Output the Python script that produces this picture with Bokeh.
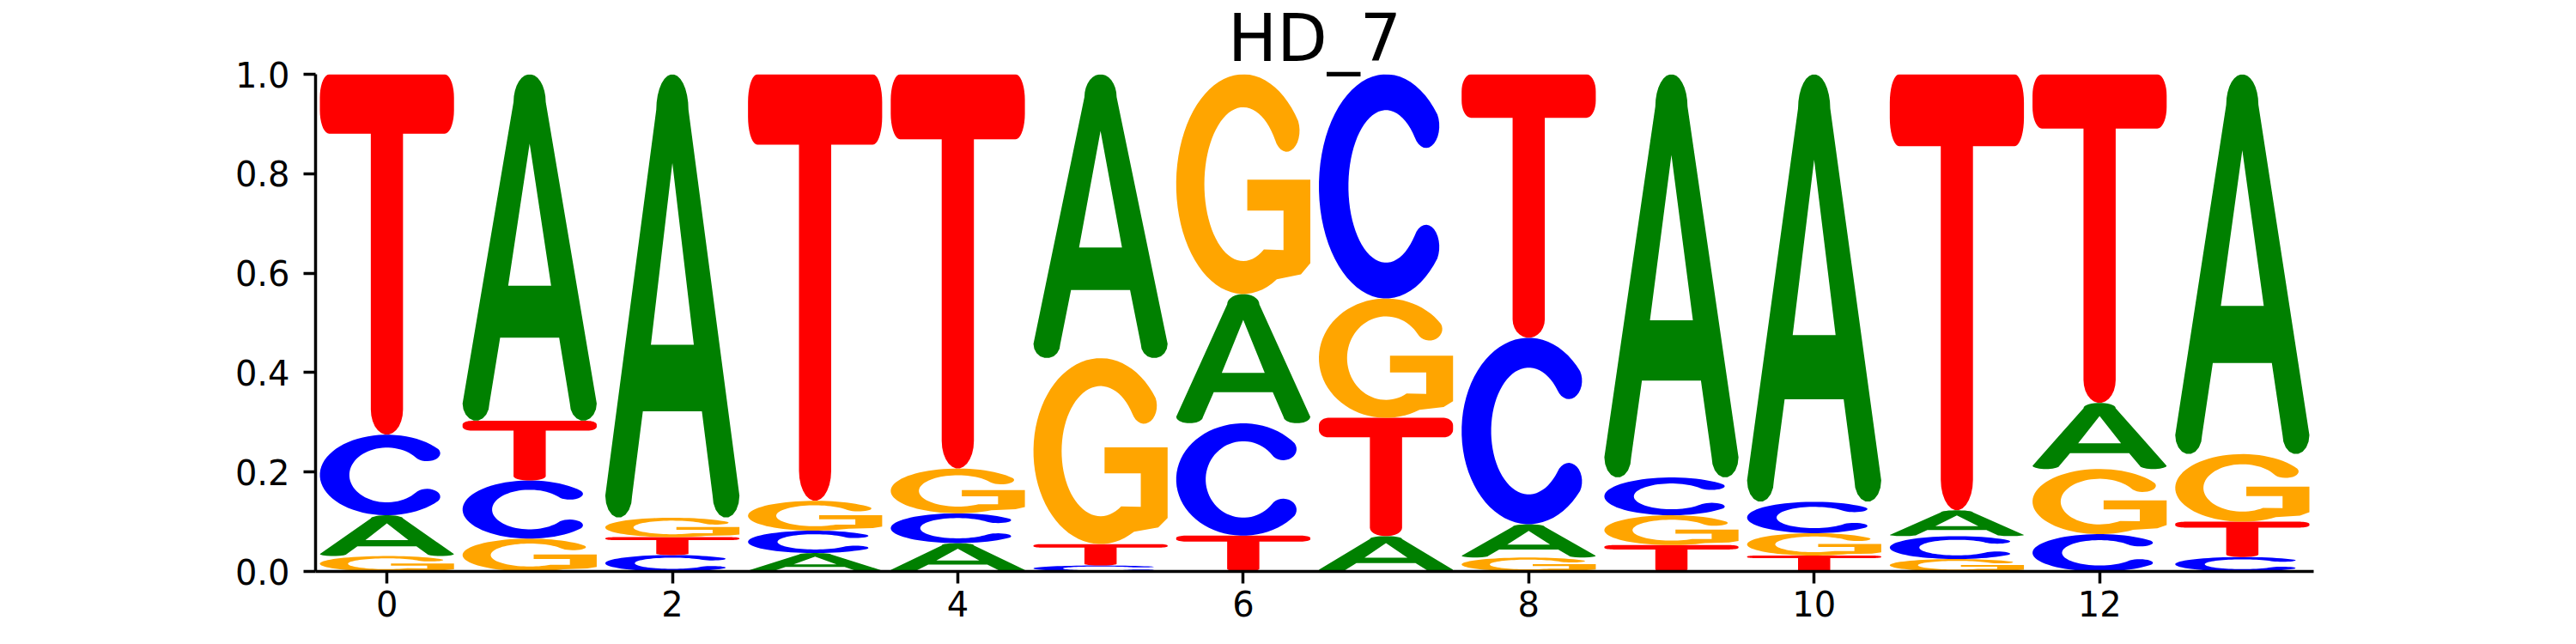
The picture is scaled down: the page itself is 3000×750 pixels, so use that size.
import numpy as np
from bokeh.plotting import figure
from bokeh.models import ColumnDataSource, FixedTicker, PrintfTickFormatter, Range1d
from bokeh.embed import file_html
from bokeh.resources import INLINE

# motif probabilities per position
positions = list(range(14))
prob_A = [0.082, 0.697, 0.892, 0.037, 0.057, 0.571, 0.260, 0.071, 0.067, 0.811, 0.860, 0.052, 0.133, 0.764]
prob_C = [0.162, 0.117, 0.033, 0.045, 0.060, 0.012, 0.226, 0.451, 0.375, 0.076, 0.063, 0.046, 0.075, 0.029]
prob_G = [0.031, 0.066, 0.039, 0.060, 0.090, 0.374, 0.442, 0.240, 0.028, 0.060, 0.045, 0.025, 0.131, 0.136]
prob_T = [0.725, 0.120, 0.036, 0.858, 0.793, 0.043, 0.072, 0.238, 0.530, 0.053, 0.032, 0.877, 0.661, 0.071]

letters = ["A", "C", "G", "T"]
letter_colors = {"A": "green", "C": "blue", "G": "orange", "T": "red"}
x_ticks = [0, 2, 4, 6, 8, 10, 12]
y_ticks = [0.0, 0.2, 0.4, 0.6, 0.8, 1.0]
title_text = "HD_7"

FONT = "DejaVu Sans"
GLYPH_W = 0.94


# letter outlines in a unit box, stretched later to the stack cell
def arc(cx, cy, rx, ry, a0, a1, n=40):
    t = np.radians(np.linspace(a0, a1, n))
    return [(cx + rx * np.cos(a), cy + ry * np.sin(a)) for a in t]


def cap(pa, pb, toward, n=16):
    pa, pb, toward = np.array(pa), np.array(pb), np.array(toward)
    m = (pa + pb) / 2
    d = (pa - pb) / 2
    perp = np.array([-d[1], d[0]])
    s = 1.0 if np.dot(perp, toward) > 0 else -1.0
    phi = np.linspace(0, np.pi, n)[1:-1]
    return [tuple(m + d * np.cos(f) + s * perp * np.sin(f)) for f in phi]


def shape_T():
    rx, ry, yb = 0.07, 0.065, 0.835
    pts = [(0.38, yb), (rx, yb)]
    pts += arc(rx, yb + ry, rx, ry, 270, 180, 10)
    pts += arc(rx, 1 - ry, rx, ry, 180, 90, 10)
    pts += arc(1 - rx, 1 - ry, rx, ry, 90, 0, 10)
    pts += arc(1 - rx, yb + ry, rx, ry, 0, -90, 10)
    pts += [(0.62, yb), (0.62, 0.07)]
    pts += arc(0.5, 0.07, 0.12, 0.07, 0, -180, 14)
    return [pts]


def shape_A():
    pts = arc(0.1, 0.05, 0.1, 0.05, 180, 360, 10)
    pts += [(0.28, 0.24), (0.72, 0.24)]
    pts += arc(0.9, 0.05, 0.1, 0.05, 180, 360, 10)
    pts += [(0.62, 0.92)]
    pts += arc(0.5, 0.92, 0.12, 0.08, 0, 180, 16)
    hole = [(0.34, 0.39), (0.66, 0.39), (0.5, 0.8)]
    return [pts, hole]


def shape_C():
    a0, a1 = 40, 320
    outer = arc(0.5, 0.5, 0.5, 0.5, a0, a1, 60)
    inner = arc(0.5, 0.5, 0.28, 0.34, a1, a0, 60)
    t1 = (-np.sin(np.radians(a1)), np.cos(np.radians(a1)))
    t0 = (np.sin(np.radians(a0)), -np.cos(np.radians(a0)))
    pts = outer + cap(outer[-1], inner[0], t1) + inner + cap(inner[-1], outer[0], t0)
    return [pts]


def shape_G():
    a0 = 35
    outer = arc(0.5, 0.5, 0.5, 0.5, a0, 300, 60)
    outer += [(0.93, 0.09), (1.0, 0.14), (1.0, 0.52), (0.53, 0.52), (0.53, 0.38), (0.8, 0.38), (0.8, 0.2)]
    inner = arc(0.5, 0.5, 0.29, 0.35, 302, a0, 60)
    t0 = (np.sin(np.radians(a0)), -np.cos(np.radians(a0)))
    pts = outer + inner + cap(inner[-1], outer[0], t0)
    return [pts]


shapes = {"A": shape_A(), "C": shape_C(), "G": shape_G(), "T": shape_T()}

probs = {"A": prob_A, "C": prob_C, "G": prob_G, "T": prob_T}

xs, ys, colors = [], [], []
for i, pos in enumerate(positions):
    col = sorted(letters, key=lambda l: probs[l][i])
    base = 0.0
    for l in col:
        h = probs[l][i]
        rings_x, rings_y = [], []
        for ring in shapes[l]:
            rings_x.append([pos - GLYPH_W / 2 + u * GLYPH_W for u, v in ring])
            rings_y.append([base + v * h for u, v in ring])
        xs.append([rings_x])
        ys.append([rings_y])
        colors.append(letter_colors[l])
        base += h

source = ColumnDataSource(data=dict(xs=xs, ys=ys, color=colors))

p = figure(title=title_text, frame_width=2327, frame_height=579,
           x_range=Range1d(-0.5, 13.5), y_range=Range1d(0, 1),
           output_backend="svg", toolbar_location=None,
           min_border_left=367, min_border_top=81,
           min_border_right=120, min_border_bottom=70)

p.multi_polygons(xs="xs", ys="ys", fill_color="color", line_color=None, source=source)

p.title.align = "center"
p.title.text_font = FONT
p.title.text_font_size = "76px"
p.title.text_font_style = "normal"
p.title.text_color = "black"
p.title.standoff = -5

p.outline_line_color = None
p.grid.visible = False
p.background_fill_color = "white"
p.border_fill_color = "white"

p.xaxis.ticker = FixedTicker(ticks=x_ticks)
p.yaxis.ticker = FixedTicker(ticks=y_ticks)
p.xaxis.formatter = PrintfTickFormatter(format="%d")
p.yaxis.formatter = PrintfTickFormatter(format="%.1f")
for ax in (p.xaxis, p.yaxis):
    ax.axis_line_width = 3.5
    ax.axis_line_color = "black"
    ax.major_tick_line_width = 3.5
    ax.major_tick_line_color = "black"
    ax.major_tick_out = 14
    ax.major_tick_in = 0
    ax.minor_tick_line_color = None
    ax.major_label_text_font = FONT
    ax.major_label_text_font_size = "40px"
    ax.major_label_text_color = "black"
p.xaxis.major_label_standoff = 8
p.yaxis.major_label_standoff = 16

open("out.html", "w").write(file_html(p, INLINE))
